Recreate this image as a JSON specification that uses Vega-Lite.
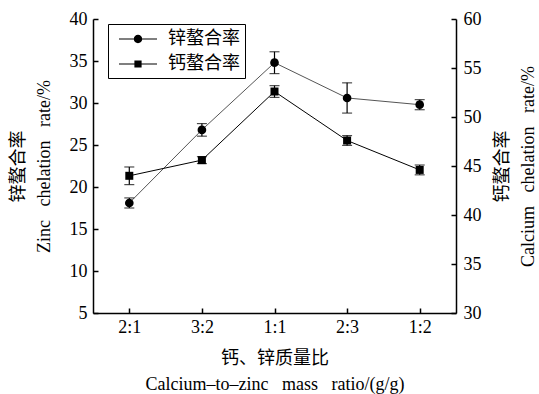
{
  "$schema": "https://vega.github.io/schema/vega-lite/v6.json",
  "width": 363,
  "height": 294,
  "autosize": {"type": "none"},
  "padding": {"left": 93, "top": 19, "right": 83, "bottom": 81},
  "background": "white",
  "config": {
    "view": {"stroke": null},
    "font": "Liberation Serif",
    "axis": {
      "grid": false,
      "domainColor": "black",
      "domainWidth": 1.5,
      "tickColor": "black",
      "tickWidth": 1.5,
      "tickSize": -5,
      "labelColor": "black",
      "labelFont": "Liberation Serif",
      "labelFontSize": 18,
      "titleFont": "Liberation Serif, Noto Sans CJK SC",
      "titleFontSize": 18,
      "titleFontWeight": "normal",
      "titleColor": "black",
      "titleLineHeight": 26
    }
  },
  "data": {
    "values": [
      {"ratio": "2:1", "series": "锌螯合率", "value": 18.1, "err": 0.6},
      {"ratio": "3:2", "series": "锌螯合率", "value": 26.8, "err": 0.75},
      {"ratio": "1:1", "series": "锌螯合率", "value": 34.8, "err": 1.3},
      {"ratio": "2:3", "series": "锌螯合率", "value": 30.6, "err": 1.8},
      {"ratio": "1:2", "series": "锌螯合率", "value": 29.8, "err": 0.6},
      {"ratio": "2:1", "series": "钙螯合率", "value": 44.0, "err": 0.9},
      {"ratio": "3:2", "series": "钙螯合率", "value": 45.6, "err": 0.35},
      {"ratio": "1:1", "series": "钙螯合率", "value": 52.6, "err": 0.6},
      {"ratio": "2:3", "series": "钙螯合率", "value": 47.6, "err": 0.5},
      {"ratio": "1:2", "series": "钙螯合率", "value": 44.6, "err": 0.5}
    ]
  },
  "encoding": {
    "x": {
      "field": "ratio",
      "type": "ordinal",
      "sort": ["2:1", "3:2", "1:1", "2:3", "1:2"],
      "scale": {"type": "point", "padding": 0.5},
      "axis": {
        "title": ["钙、锌质量比", "Calcium–to–zinc\u00a0\u00a0\u00a0mass\u00a0\u00a0\u00a0ratio/(g/g)"],
        "labelAngle": 0,
        "labelPadding": 10,
        "titlePadding": 13
      }
    }
  },
  "layer": [
    {
      "transform": [{"filter": "datum.series === '锌螯合率'"}],
      "encoding": {
        "y": {
          "field": "value",
          "type": "quantitative",
          "scale": {"domain": [5, 40], "nice": false, "zero": false},
          "axis": {
            "orient": "left",
            "values": [5, 10, 15, 20, 25, 30, 35, 40],
            "title": ["锌螯合率", "Zinc\u00a0\u00a0\u00a0chelation\u00a0\u00a0\u00a0rate/%"],
            "labelPadding": 11,
            "titlePadding": 16
          }
        }
      },
      "layer": [
        {"mark": {"type": "line", "color": "#555555", "strokeWidth": 1}},
        {"mark": {"type": "errorbar", "color": "black", "ticks": {"size": 10}, "thickness": 1.2}, "encoding": {"yError": {"field": "err"}}},
        {"mark": {"type": "point", "shape": "circle", "filled": true, "size": 75, "color": "black", "opacity": 1}},
        {
          "transform": [{"filter": "datum.value < 0"}],
          "mark": {"type": "point", "filled": true, "color": "black", "opacity": 1},
          "encoding": {
            "shape": {
              "field": "series",
              "type": "nominal",
              "scale": {
                "domain": ["锌螯合率", "钙螯合率"],
                "range": [
                  "M-1.9,-0.06L-0.4,-0.06L-0.4,0.06L-1.9,0.06ZM0.4,-0.06L1.9,-0.06L1.9,0.06L0.4,0.06ZM-0.42,0A0.42,0.42,0,1,1,0.42,0A0.42,0.42,0,1,1,-0.42,0Z",
                  "M-1.9,-0.06L-0.35,-0.06L-0.35,0.06L-1.9,0.06ZM0.35,-0.06L1.9,-0.06L1.9,0.06L0.35,0.06ZM-0.36,-0.36L0.36,-0.36L0.36,0.36L-0.36,0.36Z"
                ]
              },
              "legend": {
                "title": null,
                "orient": "none",
                "legendX": 15,
                "legendY": 5,
                "strokeColor": "black",
                "padding": 5,
                "symbolSize": 400,
                "symbolOffset": 15,
                "labelOffset": 20,
                "rowPadding": 6,
                "labelFontSize": 18,
                "labelFont": "Noto Sans CJK SC",
                "labelColor": "black",
                "symbolFillColor": "black",
                "symbolStrokeWidth": 0,
                "symbolOpacity": 1
              }
            }
          }
        }
      ]
    },
    {
      "transform": [{"filter": "datum.series === '钙螯合率'"}],
      "encoding": {
        "y": {
          "field": "value",
          "type": "quantitative",
          "scale": {"domain": [30, 60], "nice": false, "zero": false},
          "axis": {
            "orient": "right",
            "values": [30, 35, 40, 45, 50, 55, 60],
            "title": ["钙螯合率", "Calcium\u00a0\u00a0\u00a0chelation\u00a0\u00a0\u00a0rate/%"],
            "titleAngle": 270,
            "titleBaseline": "top",
            "labelPadding": 12,
            "titlePadding": -14
          }
        }
      },
      "layer": [
        {"mark": {"type": "line", "color": "black", "strokeWidth": 1}},
        {"mark": {"type": "errorbar", "color": "black", "ticks": {"size": 10}, "thickness": 1.2}, "encoding": {"yError": {"field": "err"}}},
        {"mark": {"type": "point", "shape": "square", "filled": true, "size": 64, "color": "black", "opacity": 1}}
      ]
    }
  ],
  "resolve": {"scale": {"y": "independent"}}
}
